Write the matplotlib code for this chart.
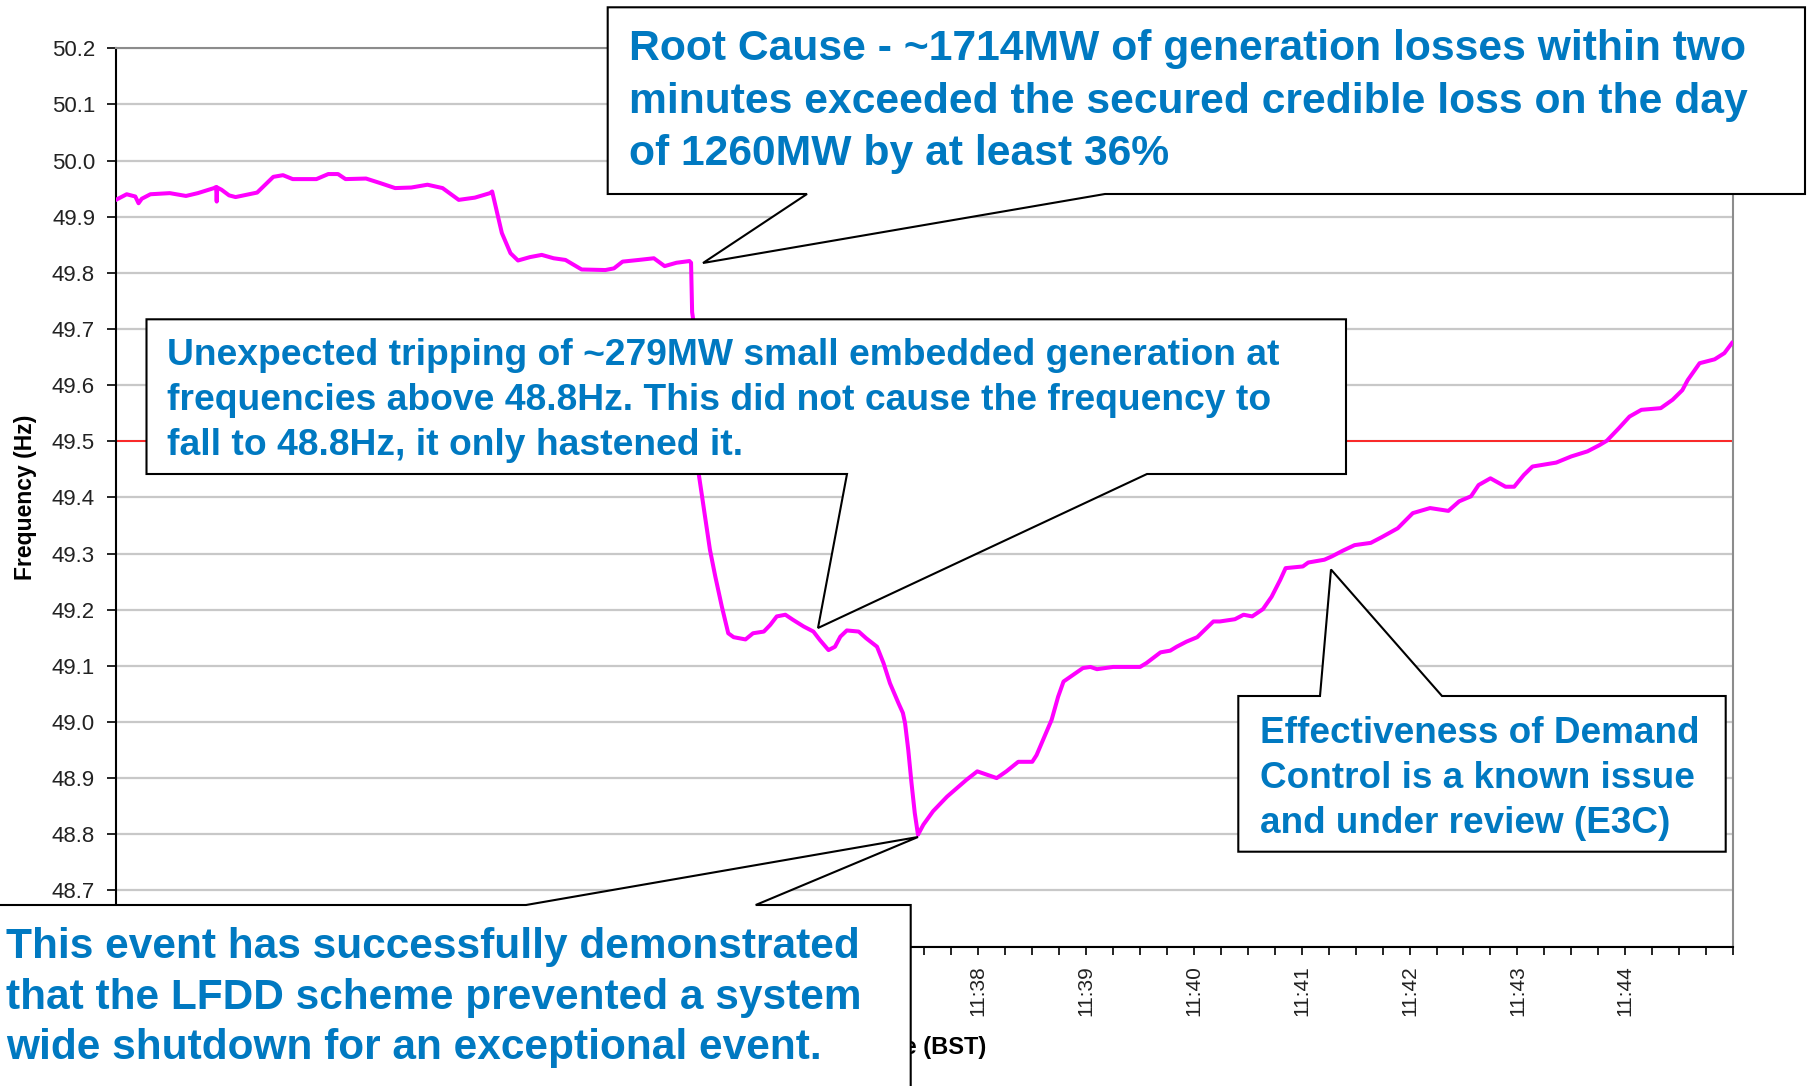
#!/usr/bin/env python3
"""
plot.py -- system frequency trace 11:30-11:45 (BST) with the four explanatory callouts.
Frequency read off the recorder trace; callouts are drawn on a pixel overlay on top.
"""
import matplotlib
matplotlib.use("Agg")
import matplotlib.pyplot as plt
from matplotlib.patches import Polygon
from matplotlib.ticker import FixedLocator, MultipleLocator

plt.rcParams["font.family"] = ["Liberation Sans", "DejaVu Sans"]

# trace: minutes after 11:30 BST, frequency in Hz
t_min = [0.00, 0.10, 0.18, 0.21, 0.24, 0.32, 0.50, 0.65, 0.76, 0.91, 0.93, 0.935, 0.94, 0.98,
         1.05, 1.11, 1.31, 1.46, 1.55, 1.64, 1.86, 1.97, 2.06, 2.13, 2.32, 2.45, 2.59, 2.74,
         2.89, 3.03, 3.18, 3.33, 3.47, 3.49, 3.53, 3.58, 3.66, 3.73, 3.84, 3.95, 4.06, 4.17,
         4.32, 4.54, 4.62, 4.70, 4.85, 4.99, 5.09, 5.20, 5.32, 5.335, 5.345, 5.36, 5.40, 5.51,
         5.56, 5.62, 5.68, 5.73, 5.84, 5.91, 6.01, 6.07, 6.13, 6.21, 6.28, 6.38, 6.47, 6.53,
         6.61, 6.67, 6.72, 6.78, 6.89, 6.96, 7.06, 7.12, 7.18, 7.26, 7.30, 7.32, 7.35, 7.38,
         7.41, 7.44, 7.49, 7.58, 7.71, 7.80, 7.89, 7.99, 8.08, 8.17, 8.26, 8.37, 8.50, 8.54,
         8.60, 8.68, 8.74, 8.79, 8.88, 8.97, 9.04, 9.10, 9.25, 9.42, 9.50, 9.56, 9.69, 9.78,
         9.84, 9.93, 10.03, 10.10, 10.18, 10.24, 10.38, 10.46, 10.54, 10.64, 10.72, 10.80,
         10.85, 11.01, 11.06, 11.21, 11.28, 11.38, 11.49, 11.64, 11.74, 11.89, 12.03, 12.19,
         12.36, 12.46, 12.57, 12.64, 12.75, 12.89, 12.97, 13.06, 13.14, 13.36, 13.50, 13.65,
         13.76, 13.83, 13.94, 14.04, 14.15, 14.33, 14.44, 14.53, 14.58, 14.69, 14.83, 14.92,
         14.99]
freq_hz = [49.930, 49.940, 49.936, 49.924, 49.932, 49.940, 49.942, 49.937, 49.942, 49.951,
           49.953, 49.927, 49.952, 49.948, 49.938, 49.935, 49.943, 49.971, 49.974, 49.967,
           49.967, 49.976, 49.976, 49.967, 49.968, 49.960, 49.951, 49.952, 49.957, 49.951,
           49.930, 49.934, 49.942, 49.945, 49.912, 49.871, 49.835, 49.822, 49.828, 49.832,
           49.826, 49.823, 49.806, 49.805, 49.808, 49.820, 49.823, 49.826, 49.812, 49.818,
           49.821, 49.818, 49.730, 49.710, 49.450, 49.307, 49.259, 49.206, 49.158, 49.151,
           49.147, 49.158, 49.161, 49.173, 49.188, 49.191, 49.182, 49.170, 49.161, 49.146,
           49.128, 49.134, 49.152, 49.163, 49.161, 49.149, 49.134, 49.105, 49.069, 49.033,
           49.016, 48.998, 48.950, 48.891, 48.838, 48.799, 48.817, 48.841, 48.867, 48.882,
           48.897, 48.912, 48.906, 48.900, 48.912, 48.929, 48.929, 48.941, 48.968, 49.004,
           49.045, 49.072, 49.084, 49.096, 49.098, 49.094, 49.098, 49.098, 49.098, 49.105,
           49.124, 49.127, 49.134, 49.143, 49.151, 49.164, 49.179, 49.179, 49.183, 49.191,
           49.188, 49.201, 49.223, 49.253, 49.274, 49.277, 49.284, 49.289, 49.295, 49.305,
           49.315, 49.319, 49.329, 49.345, 49.372, 49.381, 49.376, 49.393, 49.402, 49.422,
           49.434, 49.419, 49.419, 49.440, 49.455, 49.462, 49.473, 49.482, 49.493, 49.501,
           49.523, 49.544, 49.556, 49.559, 49.574, 49.591, 49.609, 49.639, 49.646, 49.657,
           49.675]
alert_hz = 49.5
y_ticks = [48.6, 48.7, 48.8, 48.9, 49.0, 49.1, 49.2, 49.3, 49.4, 49.5, 49.6, 49.7, 49.8,
           49.9, 50.0, 50.1, 50.2]
x_tick_labels = ["11:30", "11:31", "11:32", "11:33", "11:34", "11:35", "11:36", "11:37",
                 "11:38", "11:39", "11:40", "11:41", "11:42", "11:43", "11:44"]
first_shown_minute = 8        # labels before 11:38 sit under the LFDD callout
lowest_shown_tick = 48.7      # 48.6 sits under it too

callout_blue = "#0079c1"
root_lines = ["Root Cause - ~1714MW of generation losses within two",
              "minutes exceeded the secured credible loss on the day",
              "of 1260MW by at least 36%"]
trip_lines = ["Unexpected tripping of ~279MW small embedded generation at",
              "frequencies above 48.8Hz. This did not cause the frequency to",
              "fall to 48.8Hz, it only hastened it."]
demand_lines = ["Effectiveness of Demand",
                "Control is a known issue",
                "and under review (E3C)"]
lfdd_lines = ["This event has successfully demonstrated",
              "that the LFDD scheme prevented a system",
              "wide shutdown for an exceptional event."]

W, H = 1807, 1086
fig = plt.figure(figsize=(W / 100, H / 100), dpi=100)
x0, x1, y0, y1 = 115.9, 1733.0, 48.3, 946.5          # plot frame in pixels
ax = fig.add_axes([x0 / W, 1 - y1 / H, (x1 - x0) / W, (y1 - y0) / H])

ax.yaxis.grid(True, color="#c8c8c8", lw=1.6, zorder=0)
ax.set_axisbelow(True)
ax.axhline(alert_hz, color="#ff1a1a", lw=1.3, zorder=2)
ax.plot(t_min, freq_hz, color="#ff00ff", lw=2.9, zorder=3, solid_joinstyle="round")

ax.set_xlim(0, 15)
ax.set_ylim(48.6, 50.2)
ax.set_yticks(y_ticks)
ax.set_yticklabels([f"{v:.1f}" if v >= lowest_shown_tick - 1e-9 else "" for v in y_ticks])
ax.xaxis.set_major_locator(FixedLocator(range(len(x_tick_labels))))
ax.set_xticklabels([lb if i >= first_shown_minute else "" for i, lb in enumerate(x_tick_labels)],
                   rotation=90)
ax.xaxis.set_minor_locator(MultipleLocator(0.25))
ax.tick_params(axis="y", length=6.5, width=1.2, pad=8.5, labelsize=16, labelcolor="#222222")
ax.tick_params(axis="x", which="both", length=5.5, width=1.2, pad=8, labelsize=15,
               labelcolor="#222222")
for s in ("left", "bottom"):
    ax.spines[s].set_color("black"); ax.spines[s].set_linewidth(1.5)
for s in ("top", "right"):
    ax.spines[s].set_color("#8c8c8c"); ax.spines[s].set_linewidth(1.5)
ax.set_ylabel("Frequency (Hz)", fontsize=16.5, fontweight="bold", labelpad=10.5)
ax.set_xlabel("Time (BST)", fontsize=17, fontweight="bold", labelpad=14)

# callouts on a pixel overlay (y grows downward like the screen)
ov = fig.add_axes([0, 0, 1, 1])
ov.set_xlim(0, W); ov.set_ylim(H, 0)
ov.axis("off"); ov.set_zorder(10); ov.patch.set_alpha(0)


def callout(verts, lines, x, baselines, size):
    ov.add_patch(Polygon(verts, closed=True, fc="white", ec="black", lw=1.5, joinstyle="miter"))
    for ln, yb in zip(lines, baselines):
        ov.text(x, yb, ln, fontsize=size, fontweight="bold", color=callout_blue,
                ha="left", va="baseline")


callout([(607.7, 7.3), (1805, 7.3), (1805, 194), (1105, 194), (703, 263), (807, 194),
         (607.7, 194)], root_lines, 629, [60, 112.5, 165], 30.7)
callout([(146.5, 319.3), (1346, 319.3), (1346, 474), (1147, 474), (818, 628), (847, 474),
         (146.5, 474)], trip_lines, 167, [365, 410, 455], 26.8)
callout([(1238.3, 696), (1320, 696), (1331, 569.5), (1442, 696), (1725.7, 696),
         (1725.7, 851.7), (1238.3, 851.7)], demand_lines, 1260, [743, 788, 833], 26.6)
callout([(-5, 905), (526, 905), (918, 837), (755.7, 905), (910.7, 905), (910.7, 1095),
         (-5, 1095)], lfdd_lines, 6, [958, 1009, 1059], 30.5)

fig.savefig("out.png", dpi=100)
